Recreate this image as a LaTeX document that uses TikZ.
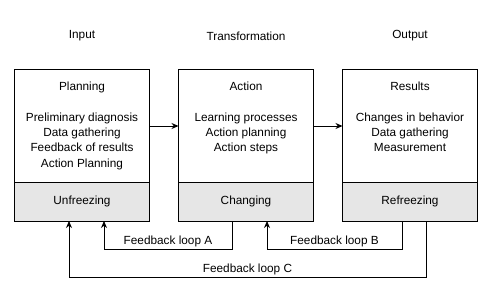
\documentclass[tikz,border=0pt]{standalone}
\usepackage{fontspec}
\setmainfont{Liberation Sans}
\usetikzlibrary{positioning, arrows.meta}
\definecolor{StageGray}{RGB}{230,230,230}

\begin{document}
\begin{tikzpicture}[
  x=1pt, y=-1pt,
  every node/.style={font=\fontsize{11.8}{15.3}\selectfont},
  phasebox/.style={rectangle, draw=black, fill=white, minimum width=135pt, minimum height=112pt, line width=1pt, outer sep=0pt},
  stagebox/.style={rectangle, draw=black, fill=StageGray, minimum width=135pt, minimum height=39pt, line width=1pt, outer sep=0pt},
  boxtext/.style={align=center, inner sep=0pt},
  head/.style={inner sep=0pt},
  arrow/.style={-{Stealth[length=7pt, width=6pt]}, line width=1pt},
  fblabel/.style={above, inner sep=2pt}
]
\useasboundingbox (0,0) rectangle (492,294);

% Row 1: headings
\node[head] (input) at (82,36) {Input};
\node[head] (transform) at (246,36) {Transformation};
\node[head] (output) at (410,36) {Output};

% Row 2: phase boxes
\node[phasebox] (plan) at (82,126) {};
\node[phasebox] (act) at (246,126) {};
\node[phasebox] (result) at (410,126) {};

\node[boxtext, below=12pt of plan.north] (plantext) {Planning\\[15.3pt]Preliminary diagnosis\\Data gathering\\Feedback of results\\Action Planning};
\node[boxtext, below=12pt of act.north] (acttext) {Action\\[15.3pt]Learning processes\\Action planning\\Action steps};
\node[boxtext, below=12pt of result.north] (resulttext) {Results\\[15.3pt]Changes in behavior\\Data gathering\\Measurement};

% Row 3: stages
\node[stagebox, below=0pt of plan] (unfreeze) {Unfreezing};
\node[stagebox, below=0pt of act] (change) {Changing};
\node[stagebox, below=0pt of result] (refreeze) {Refreezing};

% Arrows
\draw[arrow] (plan) -- (act);
\draw[arrow] (act) -- (result);

% Feedback loops
\draw[arrow] ([xshift=-14pt]change.south) -- ++(0,28) -| node[fblabel, pos=0.25] (loopA) {Feedback loop A} ([xshift=22pt]unfreeze.south);
\draw[arrow] ([xshift=-8pt]refreeze.south) -- ++(0,28) -| node[fblabel, pos=0.25] (loopB) {Feedback loop B} ([xshift=21pt]change.south);
\draw[arrow] ([xshift=16pt]refreeze.south) -- ++(0,56) -| node[fblabel, pos=0.25] (loopC) {Feedback loop C} ([xshift=-13pt]unfreeze.south);

\end{tikzpicture}
\end{document}
